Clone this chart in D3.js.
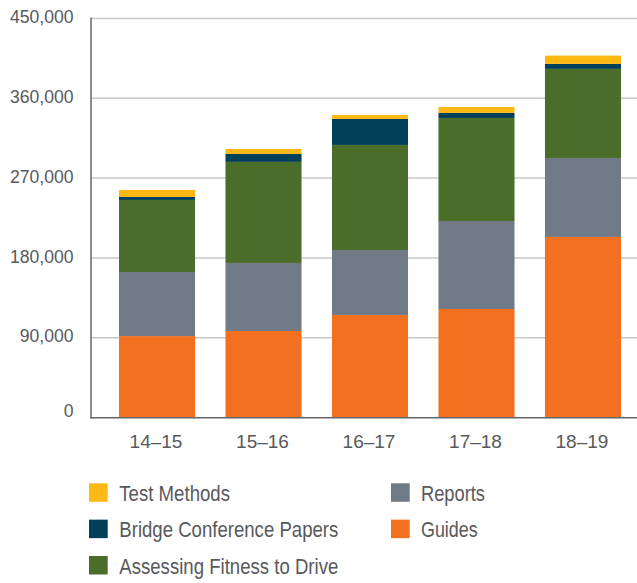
<!DOCTYPE html>
<html>
<head>
<meta charset="utf-8">
<script src="https://cdn.jsdelivr.net/npm/d3@7"></script>
<style>
  html, body { margin: 0; padding: 0; background: #fff; }
  svg { display: block; }
</style>
</head>
<body>
<svg id="chart" width="637" height="583"></svg>
<script>
// ---- data ----
const categories = ["14–15", "15–16", "16–17", "17–18", "18–19"];
const seriesNames = ["Guides", "Reports", "Assessing Fitness to Drive", "Bridge Conference Papers", "Test Methods"];
const guides      = [92000, 97700, 115800, 122500, 203700];
const reports     = [72200, 76700, 73200, 99200, 89000];
const fitness     = [81200, 113900, 118400, 116100, 100400];
const bridge      = [3400, 9000, 29300, 5700, 5600];
const testMethods = [7900, 5600, 4500, 6700, 9400];
const yTicks = [0, 90000, 180000, 270000, 360000, 450000];
const legendCol1 = ["Test Methods", "Bridge Conference Papers", "Assessing Fitness to Drive"];
const legendCol2 = ["Reports", "Guides"];
const legendWidths = { "Test Methods": 110.7, "Bridge Conference Papers": 219, "Assessing Fitness to Drive": 219, "Reports": 64, "Guides": 56.7 };

const colors = {
  "Guides": "#F37021",
  "Reports": "#6F7A86",
  "Assessing Fitness to Drive": "#4A6E29",
  "Bridge Conference Papers": "#023F5A",
  "Test Methods": "#FDB813"
};

const seriesValues = [guides, reports, fitness, bridge, testMethods];
const rows = categories.map((c, i) => {
  const r = { cat: c };
  seriesNames.forEach((s, k) => r[s] = seriesValues[k][i]);
  return r;
});

const svg = d3.select("#chart");
const textColor = "#58595B";
const numFont = "'Liberation Sans', Arial, sans-serif";

const x = d3.scaleBand().domain(categories).range([91, 649]).paddingInner(0.286).paddingOuter(0.263);
const y = d3.scaleLinear().domain([0, 450000]).range([417.7, 18.4]);

// gridlines
svg.append("g").selectAll("line").data(yTicks.filter(d => d > 0)).join("line")
  .attr("x1", 91).attr("x2", 637)
  .attr("y1", d => y(d)).attr("y2", d => y(d))
  .attr("stroke", "#C8C8C8").attr("stroke-width", 1.5);

// bars
const stack = d3.stack().keys(seriesNames)(rows);
svg.append("g").selectAll("g").data(stack).join("g")
  .attr("fill", d => colors[d.key])
  .selectAll("rect").data(d => d).join("rect")
  .attr("x", d => x(d.data.cat))
  .attr("width", x.bandwidth())
  .attr("y", d => y(d[1]))
  .attr("height", d => y(d[0]) - y(d[1]));

// axes lines
svg.append("line").attr("x1", 91).attr("x2", 91).attr("y1", 17.5).attr("y2", 418.4)
  .attr("stroke", "#666").attr("stroke-width", 1.5);
svg.append("line").attr("x1", 90.25).attr("x2", 637).attr("y1", 417.7).attr("y2", 417.7)
  .attr("stroke", "#666").attr("stroke-width", 1.5);

// y tick labels
svg.append("g").selectAll("text").data(yTicks).join("text")
  .attr("x", 73.5)
  .attr("y", d => d === 0 ? y(d) - 1 : y(d) + 4.6)
  .attr("text-anchor", "end")
  .attr("font-family", numFont).attr("font-size", 17.6)
  .attr("fill", textColor)
  .text(d => d3.format(",")(d));

// x tick labels
svg.append("g").selectAll("text").data(categories).join("text")
  .attr("x", d => x(d) + x.bandwidth() / 2 - 1)
  .attr("y", 447.7)
  .attr("text-anchor", "middle")
  .attr("font-family", numFont).attr("font-size", 19)
  .attr("fill", textColor)
  .text(d => d);

// legend
function legendColumn(items, sx, tx) {
  const g = svg.append("g");
  const it = g.selectAll("g").data(items).join("g")
    .attr("transform", (d, i) => `translate(0, ${483.3 + i * 36.35})`);
  it.append("rect").attr("x", sx).attr("y", 0).attr("width", 18.7).attr("height", 18.5)
    .attr("fill", d => colors[d]);
  it.append("text").attr("x", tx).attr("y", 17.8)
    .attr("font-family", numFont).attr("font-size", 22)
    .attr("textLength", d => legendWidths[d])
    .attr("lengthAdjust", "spacingAndGlyphs")
    .attr("fill", textColor).text(d => d);
}
legendColumn(legendCol1, 89, 119.3);
legendColumn(legendCol2, 391, 421);
</script>
</body>
</html>
